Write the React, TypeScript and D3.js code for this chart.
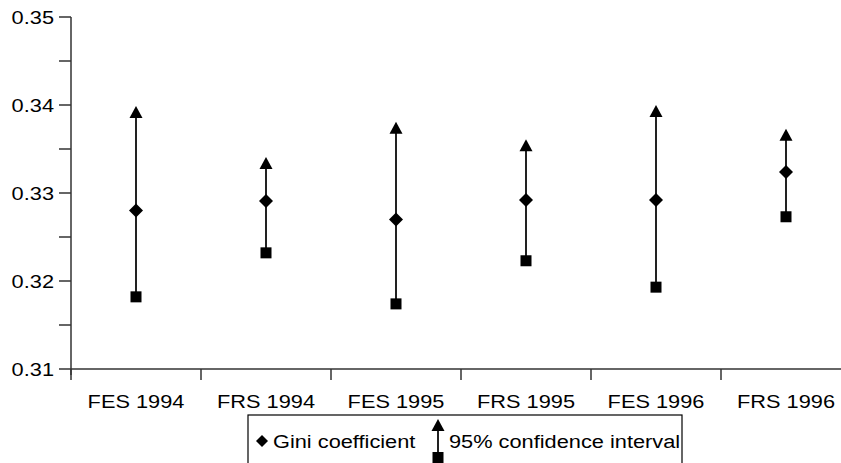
import React from "react";
import { scaleLinear, scaleBand, range } from "d3";

const categories = ["FES 1994", "FRS 1994", "FES 1995", "FRS 1995", "FES 1996", "FRS 1996"];
const gini = [0.328, 0.3291, 0.327, 0.3292, 0.3292, 0.3324];
const upper = [0.3391, 0.3333, 0.3373, 0.3353, 0.3392, 0.3365];
const lower = [0.3182, 0.3232, 0.3174, 0.3223, 0.3193, 0.3273];
const yTicks = [0.31, 0.32, 0.33, 0.34, 0.35];

const width = 841;
const height = 463;
const font = "'Liberation Sans', Arial, sans-serif";
const sx = 1.21; // the source picture is stretched sideways

const App = () => {
  const left = 71;
  const y = scaleLinear().domain([0.31, 0.35]).range([369, 17]);
  const x = scaleBand<string>().domain(categories).range([left, left + 130 * categories.length]);
  const minor = range(0, 4).map((i) => 0.315 + i * 0.01);

  const tri = (cx: number, cy: number) =>
    `M${cx},${cy - 7}L${cx + 6.5},${cy + 5}L${cx - 6.5},${cy + 5}Z`;
  const dia = (cx: number, cy: number, r = 7) =>
    `M${cx},${cy - r}L${cx + r},${cy}L${cx},${cy + r}L${cx - r},${cy}Z`;

  const label = (tx: number, ty: number, text: string, anchor: string) => (
    <text
      transform={`translate(${tx},${ty}) scale(${sx},1)`}
      textAnchor={anchor}
      fontSize={18}
      fontFamily={font}
      fill="#000"
    >
      {text}
    </text>
  );

  return (
    <svg
      width={width}
      height={height}
      style={{ position: "absolute", left: 0, top: 0, background: "#fff" }}
    >
      {/* y axis */}
      <line x1={left} x2={left} y1={y(0.35)} y2={y(0.31) + 6} stroke="#333" strokeWidth={1.5} />
      {yTicks.map((t) => (
        <g key={t}>
          <line x1={left - 12} x2={left} y1={y(t)} y2={y(t)} stroke="#333" strokeWidth={1.5} />
          {label(left - 17, y(t) + 6.5, t.toFixed(2), "end")}
        </g>
      ))}
      {minor.map((t) => (
        <line key={t} x1={left - 12} x2={left} y1={y(t)} y2={y(t)} stroke="#333" strokeWidth={1.5} />
      ))}

      {/* x axis */}
      <line x1={left} x2={width} y1={y(0.31)} y2={y(0.31)} stroke="#333" strokeWidth={1.5} />
      {categories.map((c) => (
        <g key={c}>
          <line x1={x(c)!} x2={x(c)!} y1={y(0.31)} y2={y(0.31) + 11} stroke="#333" strokeWidth={1.5} />
          {label(x(c)! + x.bandwidth() / 2, 408, c, "middle")}
        </g>
      ))}

      {/* intervals */}
      {categories.map((c, i) => {
        const cx = x(c)! + x.bandwidth() / 2;
        return (
          <g key={c}>
            <line x1={cx} x2={cx} y1={y(upper[i])} y2={y(lower[i])} stroke="#222" strokeWidth={2} />
            <path d={tri(cx, y(upper[i]))} fill="#000" />
            <rect x={cx - 5.5} y={y(lower[i]) - 5.5} width={11} height={11} fill="#000" />
            <path d={dia(cx, y(gini[i]))} fill="#000" />
          </g>
        );
      })}

      {/* legend */}
      <rect x={248} y={415} width={434} height={60} fill="none" stroke="#000" strokeWidth={1.2} />
      <path d={dia(262, 441, 6)} fill="#000" />
      {label(273, 448, "Gini coefficient", "start")}
      <line x1={438} x2={438} y1={426} y2={456} stroke="#222" strokeWidth={2} />
      <path d={tri(438, 426)} fill="#000" />
      <rect x={432.5} y={452} width={11} height={11} fill="#000" />
      {label(449, 448, "95% confidence interval", "start")}
    </svg>
  );
};

export default App;
